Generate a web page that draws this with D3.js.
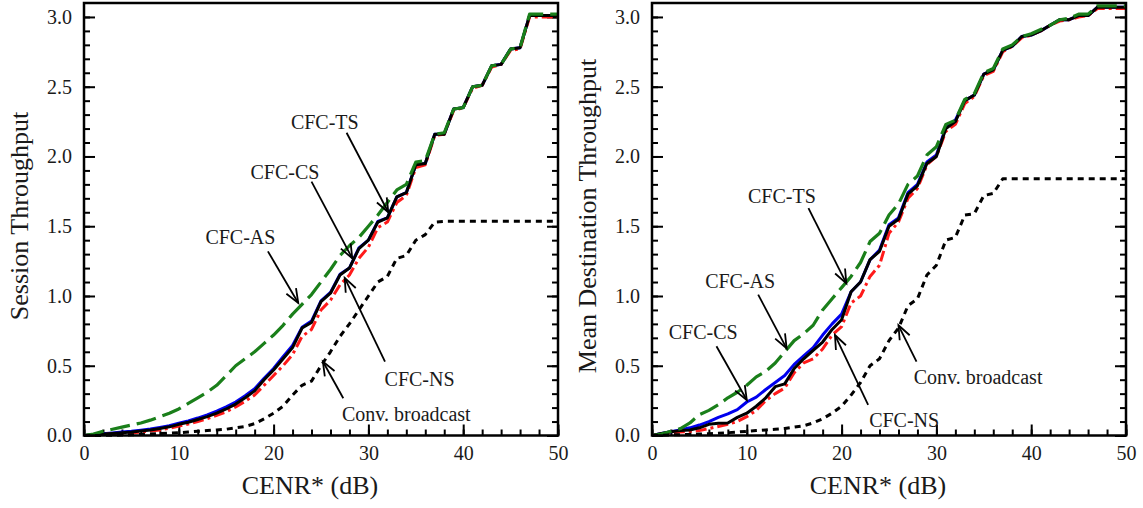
<!DOCTYPE html>
<html>
<head>
<meta charset="utf-8">
<script src="https://cdn.jsdelivr.net/npm/d3@7"></script>
<style>
  body { margin: 0; background: #fff; }
  text { font-family: "Liberation Serif", "Times New Roman", serif; fill: #1a1a1a; }
</style>
</head>
<body>
<div id="chart"></div>
<script>
// CENR* grid (dB)
const cenr = [0,1,2,3,4,5,6,7,8,9,10,11,12,13,14,15,16,17,18,19,20,21,22,23,24,25,
  26,27,28,29,30,31,32,33,34,35,36,37,38,39,40,41,42,43,44,45,46,47,48,49,50];

// Left panel: session throughput
const leftTS = [0,0.005,0.01,0.015,0.02,0.025,0.032,0.04,0.05,0.062,0.08,0.095,0.115,0.135,0.16,0.19,0.225,0.27,0.32,0.40,
  0.47,0.55,0.63,0.77,0.81,0.96,1.02,1.15,1.20,1.34,1.40,1.53,1.56,1.71,1.74,1.94,1.95,2.16,2.16,2.34,
  2.35,2.50,2.51,2.65,2.66,2.77,2.78,3.01,3.01,3.01,3.01];
const leftCS = [0,0.006,0.012,0.018,0.025,0.03,0.038,0.047,0.058,0.07,0.088,0.105,0.125,0.148,0.175,0.205,0.24,0.285,0.335,0.41,
  0.48,0.565,0.645,0.775,0.82,0.965,1.025,1.155,1.20,1.345,1.40,1.535,1.56,1.71,1.74,1.94,1.95,2.16,2.16,2.34,
  2.35,2.50,2.51,2.65,2.66,2.77,2.78,3.01,3.01,3.01,3.01];
const leftNS = [0,0.003,0.007,0.011,0.015,0.02,0.025,0.032,0.04,0.052,0.068,0.082,0.10,0.12,0.145,0.17,0.205,0.245,0.29,0.36,
  0.43,0.50,0.58,0.71,0.76,0.90,0.97,1.08,1.15,1.27,1.35,1.49,1.53,1.67,1.72,1.92,1.94,2.15,2.16,2.33,
  2.35,2.49,2.51,2.64,2.66,2.76,2.77,3.00,3.00,3.00,3.00];
const leftAS = [0,0.01,0.03,0.045,0.06,0.075,0.09,0.11,0.135,0.16,0.19,0.23,0.27,0.31,0.36,0.43,0.50,0.55,0.60,0.66,
  0.72,0.79,0.87,0.94,1.01,1.10,1.19,1.29,1.36,1.42,1.50,1.58,1.67,1.76,1.80,1.96,1.97,2.16,2.17,2.34,
  2.35,2.50,2.51,2.65,2.66,2.77,2.78,3.02,3.02,3.02,3.02];
const leftConv = [0,0,0.001,0.002,0.003,0.005,0.007,0.01,0.013,0.017,0.02,0.025,0.03,0.035,0.04,0.045,0.055,0.065,0.085,0.12,
  0.16,0.21,0.29,0.36,0.39,0.50,0.60,0.71,0.80,0.90,1.00,1.10,1.14,1.27,1.29,1.40,1.44,1.53,1.535,1.535,
  1.535,1.535,1.535,1.535,1.535,1.535,1.535,1.535,1.535,1.535,1.535];

// Right panel: mean destination throughput
const rightTS = [0,0.015,0.027,0.035,0.04,0.055,0.08,0.088,0.09,0.13,0.16,0.21,0.27,0.35,0.37,0.48,0.55,0.61,0.67,0.76,
  0.83,1.03,1.10,1.26,1.32,1.50,1.55,1.73,1.79,1.95,2.00,2.20,2.25,2.40,2.44,2.59,2.62,2.76,2.79,2.86,
  2.87,2.90,2.94,2.98,2.98,3.01,3.01,3.07,3.07,3.07,3.07];
const rightCS = [0,0.015,0.027,0.04,0.055,0.075,0.10,0.13,0.155,0.185,0.24,0.275,0.33,0.38,0.43,0.51,0.57,0.63,0.72,0.80,
  0.87,1.03,1.10,1.26,1.33,1.51,1.56,1.74,1.80,1.96,2.01,2.21,2.26,2.40,2.44,2.59,2.62,2.76,2.79,2.86,
  2.87,2.90,2.94,2.98,2.98,3.01,3.01,3.07,3.07,3.07,3.07];
const rightNS = [0,0.01,0.02,0.025,0.03,0.035,0.05,0.065,0.08,0.10,0.135,0.18,0.25,0.30,0.34,0.45,0.52,0.55,0.62,0.72,
  0.78,0.95,1.00,1.14,1.22,1.45,1.53,1.70,1.77,1.94,2.00,2.18,2.23,2.38,2.43,2.58,2.61,2.75,2.79,2.85,
  2.87,2.90,2.94,2.97,2.98,3.00,3.01,3.06,3.06,3.06,3.06];
const rightAS = [0,0.01,0.03,0.05,0.09,0.15,0.18,0.22,0.27,0.31,0.36,0.42,0.46,0.52,0.60,0.68,0.73,0.79,0.90,0.98,
  1.06,1.14,1.24,1.39,1.45,1.58,1.66,1.80,1.86,2.01,2.07,2.23,2.26,2.41,2.45,2.60,2.63,2.77,2.80,2.86,
  2.88,2.91,2.94,2.98,2.99,3.02,3.02,3.08,3.08,3.08,3.08];
const rightConv = [0,0.002,0.004,0.006,0.008,0.01,0.013,0.016,0.02,0.025,0.03,0.035,0.04,0.045,0.05,0.06,0.07,0.09,0.12,0.16,
  0.21,0.29,0.38,0.50,0.55,0.68,0.77,0.93,0.98,1.15,1.22,1.40,1.42,1.58,1.59,1.72,1.735,1.84,1.84,1.84,
  1.84,1.84,1.84,1.84,1.84,1.84,1.84,1.84,1.84,1.84,1.84];

// Tick labels
const xTicks = [0, 10, 20, 30, 40, 50];
const yTicks = [0, 0.5, 1.0, 1.5, 2.0, 2.5, 3.0];

// Annotations: label, text centre, arrow start, arrow tip (data units)
const leftNotes = [
  { label: "CFC-TS", text: [25.4, 2.25], from: [27.7, 2.17], tip: [32.1, 1.60] },
  { label: "CFC-CS", text: [21.2, 1.89], from: [24.0, 1.82], tip: [28.3, 1.27] },
  { label: "CFC-AS", text: [16.5, 1.42], from: [19.4, 1.32], tip: [22.6, 0.95] },
  { label: "CFC-NS", text: [35.4, 0.405], from: [31.75, 0.53], tip: [27.5, 1.13] },
  { label: "Conv. broadcast", text: [34.0, 0.154], from: [27.35, 0.267], tip: [25.2, 0.53] }
];
const rightNotes = [
  { label: "CFC-TS", text: [13.7, 1.72], from: [16.5, 1.63], tip: [20.5, 1.09] },
  { label: "CFC-AS", text: [9.3, 1.11], from: [11.2, 1.01], tip: [14.2, 0.625] },
  { label: "CFC-CS", text: [5.4, 0.74], from: [6.8, 0.64], tip: [10.0, 0.254] },
  { label: "CFC-NS", text: [26.6, 0.11], from: [22.8, 0.22], tip: [19.3, 0.72] },
  { label: "Conv. broadcast", text: [34.4, 0.42], from: [27.9, 0.53], tip: [26.0, 0.79] }
];

const width = 1143;
const height = 508;

const svg = d3.select('#chart')
  .append('svg')
    .attr('width', width)
    .attr('height', height)
    .attr('viewBox', [0, 0, width, height]);

// series styles, drawn in this order
const seriesStyle = [
  { key: 'CS', color: '#0000ee', dash: null, w: 3 },
  { key: 'NS', color: '#ff1a1a', dash: '11,4,3,4', w: 3 },
  { key: 'TS', color: '#000000', dash: null, w: 3 },
  { key: 'AS', color: '#1a7f1a', dash: '20,7', w: 3.2 },
  { key: 'Conv', color: '#000000', dash: '6,5', w: 3 }
];

function drawPanel(left, right, yTitle, series, notes) {
  const top = 3, bottom = 435.5;
  const x = d3.scaleLinear().domain([0, 50]).range([left, right]);
  const y = d3.scaleLinear().domain([0, 3.1]).range([bottom, top]);
  const g = svg.append('g');

  // minor ticks
  g.append('g')
    .attr('transform', `translate(0,${bottom})`)
    .call(d3.axisBottom(x).tickValues(d3.range(0, 51, 2)).tickSize(-6).tickFormat(''));
  g.append('g')
    .attr('transform', `translate(${left},0)`)
    .call(d3.axisLeft(y).tickValues(d3.range(0, 31).map(d => d / 10)).tickSize(-6).tickFormat(''));
  g.append('g')
    .attr('transform', `translate(${right},0)`)
    .call(d3.axisRight(y).tickValues(d3.range(0, 31).map(d => d / 10)).tickSize(-6).tickFormat(''));

  // major ticks
  g.append('g')
    .attr('class', 'xaxis')
    .attr('transform', `translate(0,${bottom})`)
    .call(d3.axisBottom(x).tickValues(xTicks).tickSize(-11).tickPadding(10).tickFormat(d3.format('d')));
  g.append('g')
    .attr('class', 'yaxis')
    .attr('transform', `translate(${left},0)`)
    .call(d3.axisLeft(y).tickValues(yTicks).tickSize(-11).tickPadding(12).tickFormat(d3.format('.1f')));
  g.append('g')
    .attr('transform', `translate(${right},0)`)
    .call(d3.axisRight(y).tickValues(yTicks).tickSize(-11).tickFormat(''));

  g.selectAll('.domain').remove();
  g.selectAll('.tick line').attr('stroke', '#000').attr('stroke-width', 2);
  g.selectAll('.tick text')
    .attr('font-family', '"Liberation Serif", serif')
    .attr('font-size', 20)
    .attr('fill', '#1a1a1a');

  // curves
  const line = d3.line()
    .x((d, i) => x(cenr[i]))
    .y(d => y(d));

  seriesStyle.forEach(s => {
    g.append('path')
      .datum(series[s.key])
      .attr('fill', 'none')
      .attr('stroke', s.color)
      .attr('stroke-width', s.w)
      .attr('stroke-linejoin', 'round')
      .attr('stroke-dasharray', s.dash)
      .attr('d', line);
  });

  // frame
  g.append('rect')
    .attr('x', left)
    .attr('y', top)
    .attr('width', right - left)
    .attr('height', bottom - top)
    .attr('fill', 'none')
    .attr('stroke', '#000')
    .attr('stroke-width', 2.5);

  // annotations
  notes.forEach(n => {
    const x1 = x(n.from[0]), y1 = y(n.from[1]);
    const x2 = x(n.tip[0]), y2 = y(n.tip[1]);
    const ang = Math.atan2(y2 - y1, x2 - x1);
    const hl = 15, ha = 0.38;
    g.append('line')
      .attr('x1', x1).attr('y1', y1).attr('x2', x2).attr('y2', y2)
      .attr('stroke', '#000').attr('stroke-width', 1.8);
    g.append('path')
      .attr('d', `M${x2 - hl * Math.cos(ang - ha)},${y2 - hl * Math.sin(ang - ha)}L${x2},${y2}L${x2 - hl * Math.cos(ang + ha)},${y2 - hl * Math.sin(ang + ha)}`)
      .attr('fill', 'none')
      .attr('stroke', '#000')
      .attr('stroke-width', 1.8);
    g.append('text')
      .attr('x', x(n.text[0]))
      .attr('y', y(n.text[1]))
      .attr('dy', '0.35em')
      .attr('text-anchor', 'middle')
      .attr('font-size', 20)
      .text(n.label);
  });

  // axis titles
  g.append('text')
    .attr('x', (left + right) / 2 - 11)
    .attr('y', 494)
    .attr('text-anchor', 'middle')
    .attr('font-size', 26)
    .text('CENR* (dB)');
  g.append('text')
    .attr('transform', `translate(${left - 56},${216}) rotate(-90)`)
    .attr('text-anchor', 'middle')
    .attr('font-size', 26)
    .text(yTitle);
}

drawPanel(84, 558, 'Session Throughput',
  { TS: leftTS, CS: leftCS, NS: leftNS, AS: leftAS, Conv: leftConv }, leftNotes);
drawPanel(652, 1126, 'Mean Destination Throughput',
  { TS: rightTS, CS: rightCS, NS: rightNS, AS: rightAS, Conv: rightConv }, rightNotes);
</script>
</body>
</html>
